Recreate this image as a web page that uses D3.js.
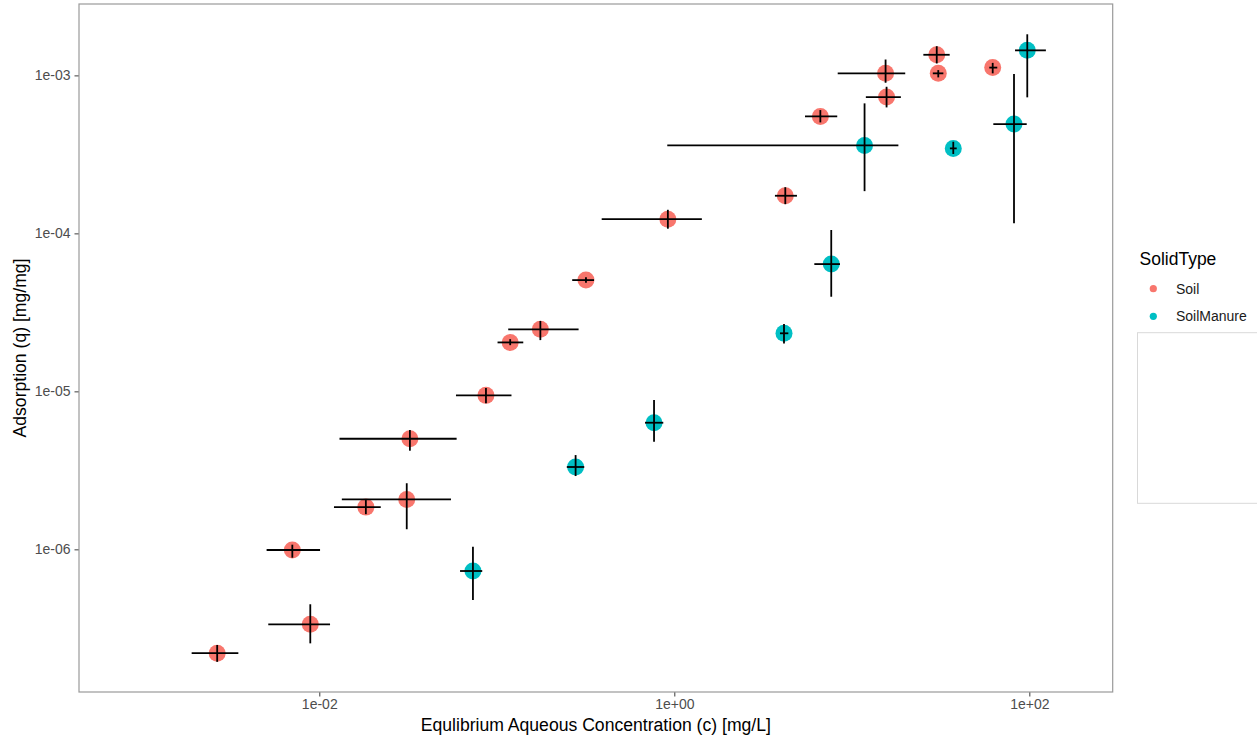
<!DOCTYPE html>
<html>
<head>
<meta charset="utf-8">
<script src="https://cdn.jsdelivr.net/npm/d3@7.9.0/dist/d3.min.js"></script>
<style>
  html, body { margin: 0; padding: 0; background: #fff; }
  svg { display: block; font-family: "Liberation Sans", Arial, sans-serif; }
</style>
</head>
<body>
<svg id="chart" width="1257" height="740"></svg>
<script>
// Soil series: concentration c [mg/L] and adsorption q [mg/mg], with error extents
const soilC   = [2.66e-3, 8.90e-3, 7.05e-3, 1.83e-2, 3.11e-2, 3.24e-2, 8.69e-2, 0.119, 0.176, 0.318, 0.92, 4.22, 6.65, 15.5, 15.7, 30.1, 30.7, 62.2];
const soilCLo = [1.91e-3, 5.16e-3, 5.05e-3, 1.21e-2, 1.34e-2, 1.30e-2, 5.89e-2, 0.101, 0.116, 0.266, 0.39, 3.69, 5.45, 8.33, 12.0, 25.3, 28.6, 59.5];
const soilCHi = [3.50e-3, 1.15e-2, 1.01e-2, 2.22e-2, 5.52e-2, 5.94e-2, 0.121, 0.141, 0.289, 0.353, 1.43, 4.91, 8.28, 20.0, 18.9, 35.6, 32.8, 66.0];
const soilQ   = [2.20e-7, 3.35e-7, 9.90e-7, 1.85e-6, 2.07e-6, 5.01e-6, 9.43e-6, 2.04e-5, 2.47e-5, 5.06e-5, 1.23e-4, 1.73e-4, 5.50e-4, 1.03e-3, 7.29e-4, 1.35e-3, 1.03e-3, 1.12e-3];
const soilQLo = [1.94e-7, 2.54e-7, 8.85e-7, 1.67e-6, 1.34e-6, 4.21e-6, 8.40e-6, 1.96e-5, 2.11e-5, 4.87e-5, 1.07e-4, 1.53e-4, 5.04e-4, 8.98e-4, 6.27e-4, 1.19e-3, 9.71e-4, 1.03e-3];
const soilQHi = [2.48e-7, 4.49e-7, 1.07e-6, 2.05e-6, 2.62e-6, 5.69e-6, 1.05e-5, 2.14e-5, 2.79e-5, 5.27e-5, 1.41e-4, 1.96e-4, 6.03e-4, 1.26e-3, 8.47e-4, 1.53e-3, 1.08e-3, 1.20e-3];

// SoilManure series
const manC   = [7.34e-2, 0.278, 0.769, 4.15, 7.66, 11.8, 37.3, 82.0, 97.4];
const manCLo = [6.21e-2, 0.248, 0.684, 3.94, 6.15, 0.913, 35.7, 62.7, 83.1];
const manCHi = [8.28e-2, 0.311, 0.867, 4.39, 8.58, 18.3, 39.0, 96.7, 124];
const manQ   = [7.29e-7, 3.32e-6, 6.33e-6, 2.33e-5, 6.39e-5, 3.60e-4, 3.45e-4, 4.92e-4, 1.44e-3];
const manQLo = [4.78e-7, 2.91e-6, 4.80e-6, 2.01e-5, 3.97e-5, 1.85e-4, 3.18e-4, 1.16e-4, 7.26e-4];
const manQHi = [1.04e-6, 3.95e-6, 8.81e-6, 2.67e-5, 1.05e-4, 6.65e-4, 3.80e-4, 1.02e-3, 1.82e-3];

const solidTypes = ['Soil', 'SoilManure'];
const xTicks = [1e-2, 1e0, 1e2];
const yTicks = [1e-6, 1e-5, 1e-4, 1e-3];
const xLimits = [4.43e-4, 295];
const yLimits = [1.25e-7, 2.83e-3];

/*build rows*/
function rows(type, c, cLo, cHi, q, qLo, qHi) {
  return c.map((v, i) => ({
    type, c: v, cLo: cLo[i], cHi: cHi[i], q: q[i], qLo: qLo[i], qHi: qHi[i]
  }));
}
const data = [
  ...rows('Soil', soilC, soilCLo, soilCHi, soilQ, soilQLo, soilQHi),
  ...rows('SoilManure', manC, manCLo, manCHi, manQ, manQLo, manQHi)
];

const panel = { left: 79, top: 4, right: 1112.7, bottom: 692 };

const x = d3.scaleLog().domain(xLimits).range([panel.left, panel.right]);
const y = d3.scaleLog().domain(yLimits).range([panel.bottom, panel.top]);
const color = d3.scaleOrdinal().domain(solidTypes).range(['#F8766D', '#00BFC4']);

//R style scientific labels, e.g. 1e-02
const sci = d => {
  const e = Math.round(Math.log10(d));
  return '1e' + (e < 0 ? '-' : '+') + String(Math.abs(e)).padStart(2, '0');
};

const svg = d3.select('#chart');

/*axes*/
const xAxis = svg.append('g')
  .attr('transform', `translate(0,${panel.bottom})`)
  .call(d3.axisBottom(x).tickValues(xTicks).tickFormat(sci).tickSize(4.5).tickPadding(3));
const yAxis = svg.append('g')
  .attr('transform', `translate(${panel.left},0)`)
  .call(d3.axisLeft(y).tickValues(yTicks).tickFormat(sci).tickSize(4.5).tickPadding(4));

[xAxis, yAxis].forEach(g => {
  g.select('.domain').remove();
  g.selectAll('line').attr('stroke', '#4d4d4d').attr('stroke-width', 1.1);
  g.selectAll('text').attr('fill', '#4d4d4d').style('font-size', '14px');
});

/*points*/
svg.append('g').selectAll('circle')
  .data(data)
  .join('circle')
  .attr('cx', d => x(d.c))
  .attr('cy', d => y(d.q))
  .attr('r', 8.5)
  .attr('fill', d => color(d.type));

/*error bars (no caps)*/
const bars = svg.append('g').attr('stroke', '#000').attr('stroke-width', 1.8);
bars.selectAll('line.v')
  .data(data)
  .join('line')
  .attr('class', 'v')
  .attr('x1', d => x(d.c)).attr('x2', d => x(d.c))
  .attr('y1', d => y(d.qLo)).attr('y2', d => y(d.qHi));
bars.selectAll('line.h')
  .data(data)
  .join('line')
  .attr('class', 'h')
  .attr('y1', d => y(d.q)).attr('y2', d => y(d.q))
  .attr('x1', d => x(d.cLo)).attr('x2', d => x(d.cHi));

/*panel border*/
svg.append('rect')
  .attr('x', panel.left).attr('y', panel.top)
  .attr('width', panel.right - panel.left)
  .attr('height', panel.bottom - panel.top)
  .attr('fill', 'none')
  .attr('stroke', '#9a9a9a')
  .attr('stroke-width', 1.2);

/*axis titles*/
svg.append('text')
  .attr('x', (panel.left + panel.right) / 2)
  .attr('y', 731)
  .attr('text-anchor', 'middle')
  .style('font-size', '17.6px')
  .attr('fill', '#000')
  .text('Equlibrium Aqueous Concentration (c) [mg/L]');

svg.append('text')
  .attr('transform', `translate(26,${(panel.top + panel.bottom) / 2}) rotate(-90)`)
  .attr('text-anchor', 'middle')
  .style('font-size', '17.6px')
  .attr('fill', '#000')
  .text('Adsorption (q) [mg/mg]');

/*legend*/
const legend = svg.append('g');
legend.append('text')
  .attr('x', 1139.5).attr('y', 264.5)
  .style('font-size', '17.5px')
  .attr('fill', '#000')
  .text('SolidType');

legend.selectAll('g.key')
  .data(solidTypes)
  .join('g')
  .attr('class', 'key')
  .attr('transform', (d, i) => `translate(1153.3,${288.7 + i * 27.6})`)
  .each(function (d) {
    const g = d3.select(this);
    g.append('circle').attr('r', 3.6).attr('fill', color(d));
    g.append('text')
      .attr('x', 22.7).attr('y', 5)
      .style('font-size', '14px')
      .attr('fill', '#1a1a1a')
      .text(d);
  });

//empty box below the legend
svg.append('rect')
  .attr('x', 1137.5).attr('y', 332.7)
  .attr('width', 130).attr('height', 170.6)
  .attr('fill', '#fff')
  .attr('stroke', '#d9d9d9')
  .attr('stroke-width', 1);
</script>
</body>
</html>
